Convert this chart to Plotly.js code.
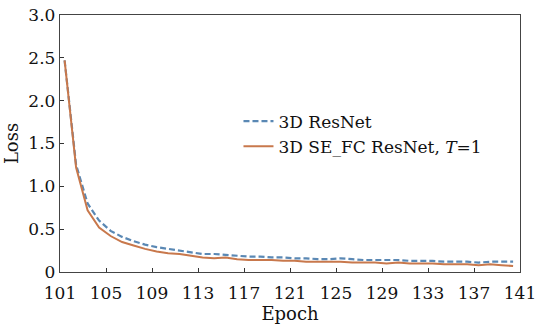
<!DOCTYPE html>
<html>
<head>
<meta charset="utf-8">
<script src="https://cdn.plot.ly/plotly-3.0.1.min.js"></script>
<style>html,body{margin:0;padding:0;background:#fff;}#chart{width:538px;height:330px;}</style>
</head>
<body>
<div id="chart"></div>
<script>
const epochs = [101.4,102.4,103.4,104.4,105.4,106.4,107.4,108.4,109.4,110.4,111.4,112.4,113.4,114.4,115.4,116.4,117.4,118.4,119.4,120.4,121.4,122.4,123.4,124.4,125.4,126.4,127.4,128.4,129.4,130.4,131.4,132.4,133.4,134.4,135.4,136.4,137.4,138.4,139.4,140.4];
const resnetLoss = [2.47,1.25,0.80,0.60,0.48,0.41,0.36,0.32,0.29,0.27,0.25,0.23,0.21,0.21,0.20,0.19,0.18,0.18,0.17,0.17,0.16,0.16,0.15,0.15,0.16,0.15,0.14,0.14,0.14,0.14,0.13,0.13,0.13,0.12,0.12,0.12,0.11,0.12,0.12,0.12];
const seFcLoss = [2.47,1.22,0.72,0.52,0.42,0.35,0.31,0.27,0.24,0.22,0.21,0.19,0.17,0.16,0.17,0.15,0.14,0.14,0.14,0.13,0.13,0.12,0.12,0.12,0.12,0.11,0.11,0.11,0.10,0.11,0.10,0.10,0.10,0.09,0.09,0.09,0.08,0.09,0.08,0.07];
const seriesNames = ["3D ResNet", "3D SE_FC ResNet, <i>T</i>=1"];
const xTicks = [101,105,109,113,117,121,125,129,133,137,141];
const yTicks = [0,0.5,1.0,1.5,2.0,2.5,3.0];
const yTickText = ["0","0.5","1.0","1.5","2.0","2.5","3.0"];

const font = "DejaVu Serif, Liberation Serif, serif";
const traces = [
  {x: epochs, y: resnetLoss, name: seriesNames[0], type: "scatter", mode: "lines",
   line: {color: "#5a88b4", width: 2.2, dash: "6px,3px"}},
  {x: epochs, y: seFcLoss, name: seriesNames[1], type: "scatter", mode: "lines",
   line: {color: "#c8784c", width: 2}}
];
const layout = {
  width: 538, height: 330,
  margin: {l: 60, r: 18, t: 15, b: 58},
  paper_bgcolor: "#fff", plot_bgcolor: "#fff",
  font: {family: font, color: "#111", size: 17},
  showlegend: true,
  legend: {x: 0.388, y: 0.655, xanchor: "left", yanchor: "top", bgcolor: "rgba(0,0,0,0)",
           font: {family: font, size: 17, color: "#111"}, tracegroupgap: 0},
  xaxis: {range: [101, 141], tickvals: xTicks, ticktext: xTicks.map(String),
          ticks: "inside", ticklen: 4, tickcolor: "#333", showgrid: false, zeroline: false,
          showline: true, linecolor: "#444", linewidth: 1.2, mirror: true,
          ticklabelstandoff: 5,
          tickfont: {family: font, size: 17, color: "#111"},
          title: {text: "Epoch", font: {family: font, size: 18, color: "#111"}, standoff: 5}},
  yaxis: {range: [0, 3.0], tickvals: yTicks, ticktext: yTickText,
          ticks: "inside", ticklen: 4, tickcolor: "#333", showgrid: false, zeroline: false,
          showline: true, linecolor: "#444", linewidth: 1.2, mirror: true,
          tickfont: {family: font, size: 17, color: "#111"},
          title: {text: "Loss", font: {family: font, size: 18, color: "#111"}, standoff: 5}}
};
Plotly.newPlot("chart", traces, layout, {staticPlot: true, displayModeBar: false});
</script>
</body>
</html>
